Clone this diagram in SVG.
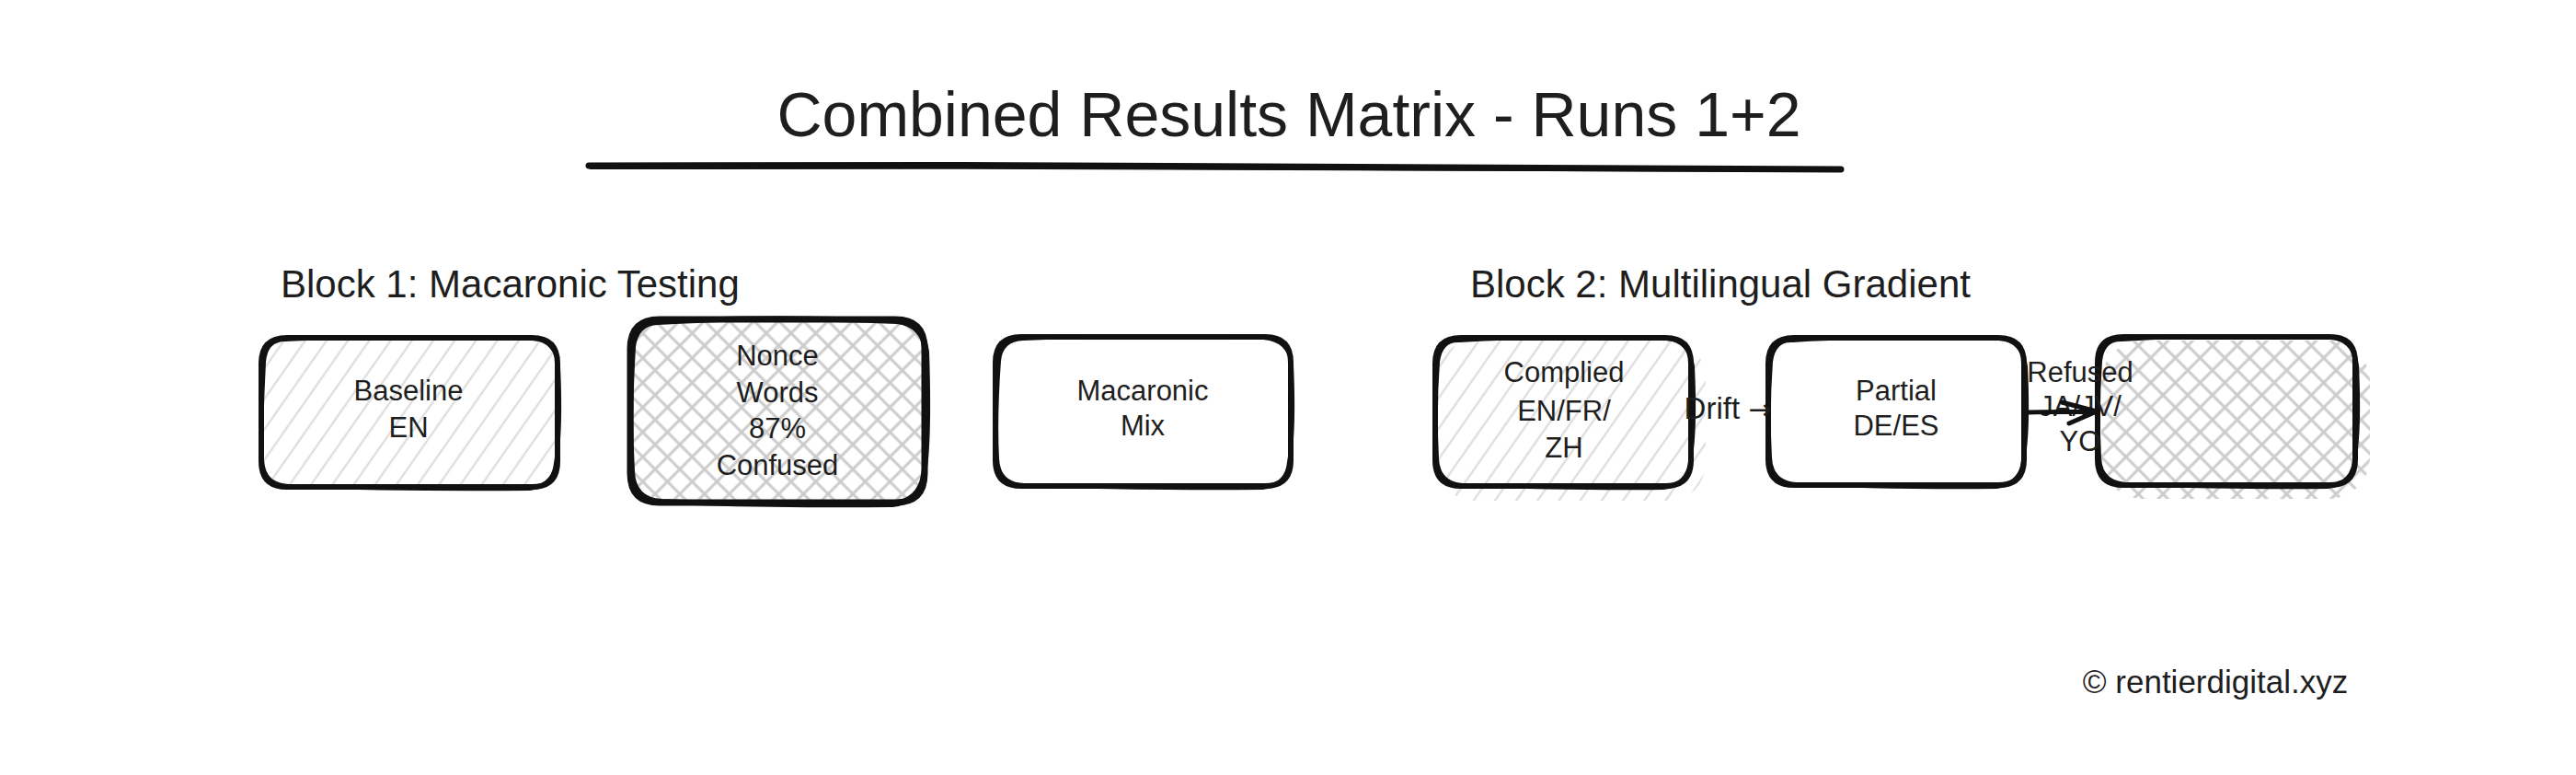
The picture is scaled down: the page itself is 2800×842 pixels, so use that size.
<svg xmlns="http://www.w3.org/2000/svg" width="2800" height="842" viewBox="0 0 2800 842">
<defs>
<style>
.t{font-family:"Liberation Sans",Arial,sans-serif;fill:#1e1e1e}
.title{font-size:68px}
.blk{font-size:42px}
.nt{font-size:31px;text-anchor:middle}
.cr{font-size:35px;text-anchor:middle}
.arr{font-family:"DejaVu Sans",sans-serif;font-size:30px}
.edge{fill:none;stroke:#111111;stroke-width:6;stroke-linecap:round;stroke-linejoin:round}
.edge2{fill:none;stroke:#111111;stroke-width:4;stroke-linecap:round;stroke-linejoin:round}
.conn{fill:none;stroke:#111111;stroke-width:5;stroke-linecap:round;stroke-linejoin:round}
</style>
<pattern id="hach" width="19" height="20" patternUnits="userSpaceOnUse" patternTransform="rotate(35)">
<line x1="9" y1="-2" x2="9" y2="22" stroke="#dedede" stroke-width="2.4"/>
</pattern>
<pattern id="cross" width="19" height="19" patternUnits="userSpaceOnUse" patternTransform="rotate(45)">
<line x1="9" y1="-2" x2="9" y2="21" stroke="#cbcbcb" stroke-width="3"/>
<line x1="-2" y1="9" x2="21" y2="9" stroke="#cbcbcb" stroke-width="3"/>
</pattern>
</defs>
<rect width="2800" height="842" fill="#ffffff"/>

<g id="title">
<text class="t title" x="1401" y="148" text-anchor="middle">Combined Results Matrix - Runs 1+2</text>
<path d="M640,180 C1100,178 1600,181 2001,184" fill="none" stroke="#111111" stroke-width="7" stroke-linecap="round"/>
<path d="M642,182 C1100,181 1600,183 1999,185" fill="none" stroke="#111111" stroke-width="4" stroke-linecap="round"/>
</g>

<g id="block1-label"><text class="t blk" x="305" y="323">Block 1: Macaronic Testing</text></g>
<g id="block2-label"><text class="t blk" x="1598" y="323">Block 2: Multilingual Gradient</text></g>

<g id="node-baseline">
<rect x="286" y="369" width="318" height="158" rx="28" fill="url(#hach)"/>
<path class="edge" d="M312,367 L578,367 Q606,367 606,395 L606,501 Q606,529 578,529 L312,529 Q284,529 284,501 L284,395 Q284,367 312,367 Z"/>
<path class="edge2" d="M310,369 C400,365 500,366 580,368 Q604,370 607,398 C609,440 608,480 604,503 Q602,527 576,531 C480,532 380,530 314,528 Q286,527 285,499 C283,460 286,420 287,393 Q289,369 310,369"/>
<text class="t nt" x="444" y="435">Baseline</text>
<text class="t nt" x="444" y="475">EN</text>
</g>

<g id="node-nonce">
<rect x="687" y="349" width="316" height="195" rx="32" fill="url(#cross)"/>
<path class="edge" style="stroke-width:7" d="M717,347 L973,347 Q1005,347 1005,379 L1005,514 Q1005,546 973,546 L717,546 Q685,546 685,514 L685,379 Q685,347 717,347 Z"/>
<path class="edge" d="M715,350 C800,345 900,346 975,349 Q1003,352 1007,382 C1009,440 1008,490 1004,516 Q1000,544 970,548 C880,549 780,547 719,545 Q688,543 687,512 C684,460 686,410 688,377 Q691,351 715,350"/>
<text class="t nt" x="845" y="397">Nonce</text>
<text class="t nt" x="845" y="437">Words</text>
<text class="t nt" x="845" y="476">87%</text>
<text class="t nt" x="845" y="516">Confused</text>
</g>

<g id="node-macaronic">
<path class="edge" d="M1110,366 L1375,366 Q1403,366 1403,394 L1403,500 Q1403,528 1375,528 L1110,528 Q1082,528 1082,500 L1082,394 Q1082,366 1110,366 Z"/>
<path class="edge2" d="M1112,368 C1200,364 1300,365 1373,367 Q1401,369 1404,396 C1406,440 1405,480 1401,502 Q1399,527 1372,530 C1280,531 1180,529 1113,527 Q1085,526 1084,498 C1082,460 1084,420 1086,392 Q1088,369 1112,368"/>
<text class="t nt" x="1242" y="435">Macaronic</text>
<text class="t nt" x="1242" y="473">Mix</text>
</g>

<g id="node-complied">
<rect x="1562" y="370" width="292" height="174" rx="40" fill="url(#hach)"/>
<path class="edge" d="M1588,367 L1810,367 Q1838,367 1838,395 L1838,500 Q1838,528 1810,528 L1588,528 Q1560,528 1560,500 L1560,395 Q1560,367 1588,367 Z"/>
<path class="edge2" d="M1586,370 C1660,365 1740,366 1812,368 Q1836,370 1840,398 C1842,440 1841,480 1837,502 Q1834,527 1808,530 C1730,531 1650,529 1590,527 Q1563,525 1562,498 C1560,460 1561,420 1563,393 Q1566,369 1586,370"/>
<text class="t nt" x="1700" y="415">Complied</text>
<text class="t nt" x="1700" y="457">EN/FR/</text>
<text class="t nt" x="1700" y="497">ZH</text>
</g>

<g id="node-partial">
<path class="edge" d="M1950,367 L2172,367 Q2200,367 2200,395 L2200,499 Q2200,527 2172,527 L1950,527 Q1922,527 1922,499 L1922,395 Q1922,367 1950,367 Z"/>
<path class="edge2" d="M1948,370 C2020,365 2100,366 2174,368 Q2198,370 2202,398 C2204,440 2203,480 2199,501 Q2196,526 2170,529 C2090,530 2010,528 1952,526 Q1925,524 1924,497 C1922,460 1923,420 1925,393 Q1928,369 1948,370"/>
<text class="t nt" x="2061" y="435">Partial</text>
<text class="t nt" x="2061" y="473">DE/ES</text>
</g>

<g id="node-refused">
<rect x="2284" y="370" width="292" height="172" rx="45" fill="url(#cross)"/>
<path class="edge" d="M2308,366 L2532,366 Q2560,366 2560,394 L2560,499 Q2560,527 2532,527 L2308,527 Q2280,527 2280,499 L2280,394 Q2280,366 2308,366 Z"/>
<path class="edge2" d="M2306,369 C2380,364 2460,365 2534,367 Q2558,369 2562,397 C2564,440 2563,480 2559,501 Q2556,526 2530,529 C2450,530 2370,528 2310,526 Q2283,524 2282,497 C2280,460 2281,420 2283,392 Q2286,368 2306,369"/>
</g>

<g id="connectors">
<text class="t nt" x="1878" y="455" style="font-size:33px">Drift <tspan class="arr">→</tspan></text>
<text class="t nt" x="2261" y="415">Refused</text>
<text class="t nt" x="2261" y="452">JA/JV/</text>
<text class="t nt" x="2261" y="490">YO</text>
<path class="conn" d="M2205,448 C2230,447 2255,448 2279,447"/>
<path class="conn" d="M2241,437 L2279,447 L2249,460"/>
</g>

<g id="copyright"><text class="t cr" x="2408" y="753">© rentierdigital.xyz</text></g>
</svg>
